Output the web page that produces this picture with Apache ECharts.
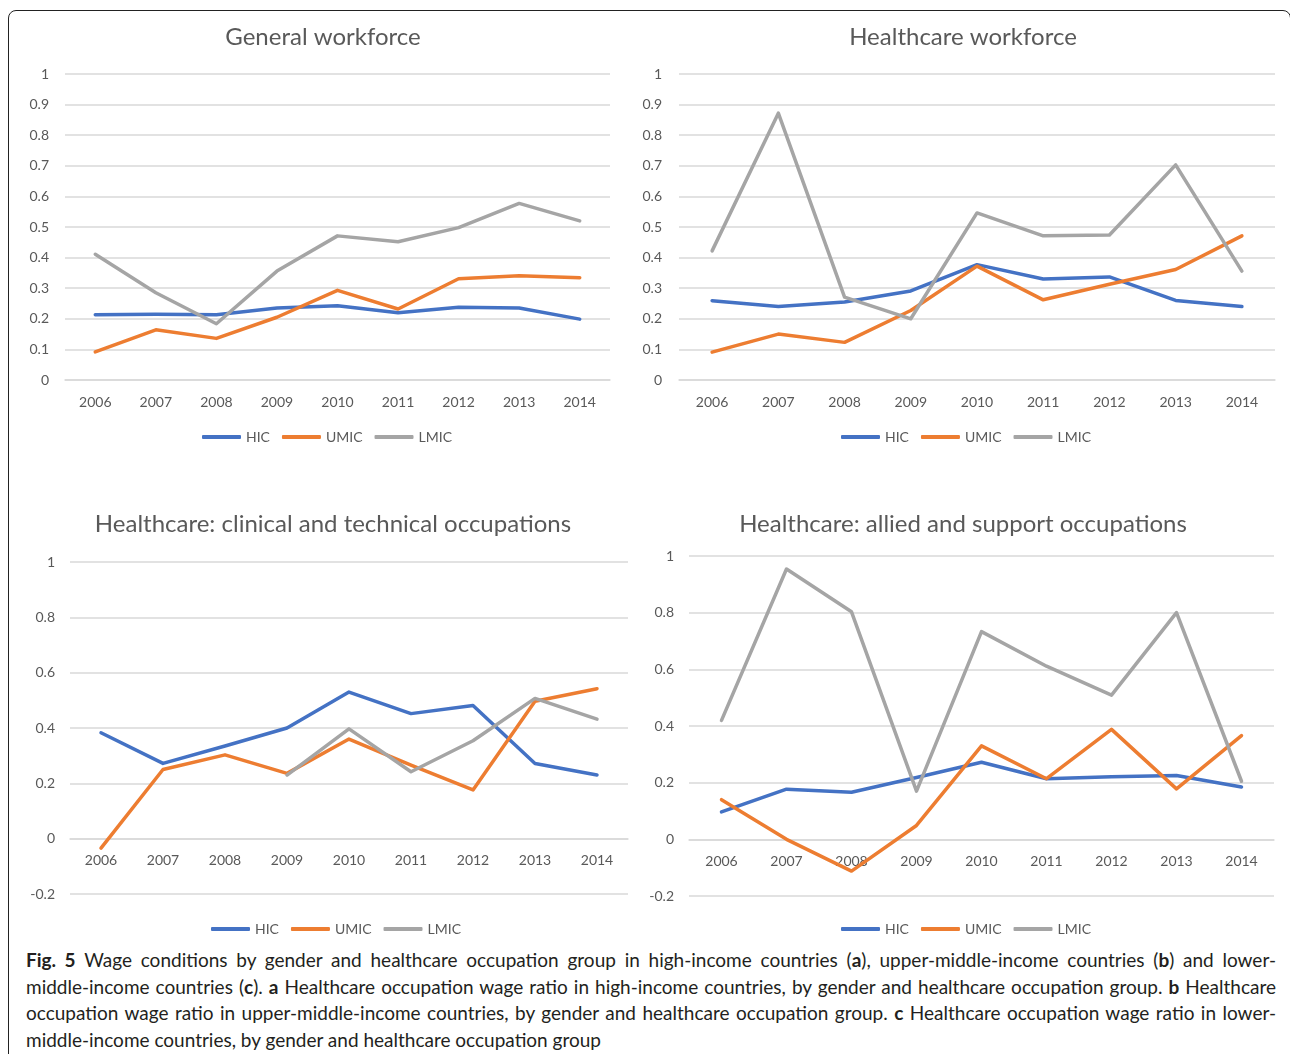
<!DOCTYPE html>
<html>
<head>
<meta charset="utf-8">
<script src="https://cdn.jsdelivr.net/npm/echarts@6/dist/echarts.min.js"></script>
<style>
html, body { margin: 0; padding: 0; background: #fff; width: 1290px; height: 1054px; overflow: hidden; }
.frame { position: absolute; left: 8px; top: 10px; width: 1283px; height: 1100px; border: 1.5px solid #222; border-radius: 8px; box-sizing: border-box; }
#chart { position: absolute; left: 0; top: 0; width: 1290px; height: 945px; }
.caption { position: absolute; left: 26px; top: 947px; width: 1250px; font-family: Lato, sans-serif; font-size: 19px; color: #231f20; line-height: 26.6px; }
.caption div { white-space: nowrap; text-align: justify; text-align-last: justify; }
.caption div.last { text-align-last: left; }
</style>
</head>
<body>
<div class="frame"></div>
<div id="chart"></div>
<div class="caption">
    <div><b>Fig. 5</b> Wage conditions by gender and healthcare occupation group in high-income countries (<b>a</b>), upper-middle-income countries (<b>b</b>) and lower-</div>
    <div>middle-income countries (<b>c</b>). <b>a</b> Healthcare occupation wage ratio in high-income countries, by gender and healthcare occupation group. <b>b</b> Healthcare</div>
    <div>occupation wage ratio in upper-middle-income countries, by gender and healthcare occupation group. <b>c</b> Healthcare occupation wage ratio in lower-</div>
    <div class="last">middle-income countries, by gender and healthcare occupation group</div>
</div>
<script>
const years = ['2006', '2007', '2008', '2009', '2010', '2011', '2012', '2013', '2014'];
const seriesNames = ['HIC', 'UMIC', 'LMIC'];
const colors = ['#4472C4', '#ED7D31', '#A5A5A5'];

// General workforce
const generalHIC = [0.213, 0.215, 0.213, 0.235, 0.243, 0.220, 0.238, 0.235, 0.199];
const generalUMIC = [0.092, 0.164, 0.136, 0.205, 0.293, 0.232, 0.331, 0.341, 0.334];
const generalLMIC = [0.411, 0.285, 0.184, 0.356, 0.471, 0.452, 0.498, 0.577, 0.520];

// Healthcare workforce
const healthHIC = [0.259, 0.240, 0.255, 0.291, 0.377, 0.330, 0.337, 0.260, 0.240];
const healthUMIC = [0.091, 0.150, 0.123, 0.227, 0.372, 0.262, 0.313, 0.361, 0.471];
const healthLMIC = [0.422, 0.872, 0.271, 0.200, 0.546, 0.471, 0.474, 0.703, 0.356];

// Healthcare: clinical and technical occupations
const clinicalHIC = [0.383, 0.272, 0.335, 0.400, 0.530, 0.452, 0.481, 0.272, 0.230];
const clinicalUMIC = [-0.034, 0.250, 0.303, 0.236, 0.360, 0.266, 0.176, 0.497, 0.542];
const clinicalLMIC = [null, null, null, 0.230, 0.397, 0.242, 0.354, 0.507, 0.432];

// Healthcare: allied and support occupations
const alliedHIC = [0.097, 0.177, 0.166, 0.218, 0.272, 0.214, 0.221, 0.225, 0.185];
const alliedUMIC = [0.140, 0.000, -0.112, 0.049, 0.330, 0.214, 0.388, 0.178, 0.366];
const alliedLMIC = [0.420, 0.954, 0.803, 0.170, 0.733, 0.611, 0.509, 0.800, 0.205];

// xOffset lifts the year labels up to the zero line on the panels that go below zero
const panels = [
    { title: 'General workforce', cx: 323, titleTop: 25, legendLeft: 202, legendTop: 430,
      grid: { left: 65, top: 74, width: 545, height: 306 }, min: 0, max: 1, interval: 0.1, labelMargin: 16, xOffset: 0,
      data: [generalHIC, generalUMIC, generalLMIC] },
    { title: 'Healthcare workforce', cx: 963, titleTop: 25, legendLeft: 841, legendTop: 430,
      grid: { left: 679, top: 74, width: 596, height: 306 }, min: 0, max: 1, interval: 0.1, labelMargin: 17, xOffset: 0,
      data: [healthHIC, healthUMIC, healthLMIC] },
    { title: 'Healthcare: clinical and technical occupations', cx: 333, titleTop: 512, legendLeft: 211, legendTop: 922,
      grid: { left: 70, top: 562, width: 558, height: 332 }, min: -0.2, max: 1, interval: 0.2, labelMargin: 15, xOffset: -55.3,
      data: [clinicalHIC, clinicalUMIC, clinicalLMIC] },
    { title: 'Healthcare: allied and support occupations', cx: 963, titleTop: 512, legendLeft: 841, legendTop: 922,
      grid: { left: 689, top: 556, width: 585, height: 340 }, min: -0.2, max: 1, interval: 0.2, labelMargin: 15, xOffset: -56.7,
      data: [alliedHIC, alliedUMIC, alliedLMIC] }
];

const font = 'Lato, sans-serif';
const textColor = '#595959';
const gridColor = '#D9D9D9';

const option = {
    animation: false,
    title: panels.map(p => ({
        text: p.title,
        left: p.cx,
        top: p.titleTop,
        textAlign: 'center',
        padding: 0,
        textStyle: { fontFamily: font, fontSize: 24, fontWeight: 'normal', color: textColor }
    })),
    legend: panels.map(p => ({
        data: seriesNames,
        left: p.legendLeft,
        top: p.legendTop,
        padding: 0,
        icon: 'roundRect',
        itemWidth: 39,
        itemHeight: 4,
        itemGap: 12,
        selectedMode: false,
        textStyle: { fontFamily: font, fontSize: 14, color: textColor }
    })),
    grid: panels.map(p => p.grid),
    xAxis: panels.map((p, i) => ({
        type: 'category',
        gridIndex: i,
        data: years,
        boundaryGap: true,
        offset: p.xOffset,
        axisTick: { show: false },
        axisLine: { onZero: false, lineStyle: { color: gridColor, width: 1.5 } },
        axisLabel: { fontFamily: font, fontSize: 14, color: textColor, margin: 15 }
    })),
    yAxis: panels.map((p, i) => ({
        type: 'value',
        gridIndex: i,
        min: p.min,
        max: p.max,
        interval: p.interval,
        axisLine: { show: false },
        axisTick: { show: false },
        splitLine: { lineStyle: { color: gridColor, width: 1.5 } },
        axisLabel: { fontFamily: font, fontSize: 14, color: textColor, margin: p.labelMargin }
    })),
    series: []
};

panels.forEach((p, i) => {
    p.data.forEach((values, k) => {
        option.series.push({
            name: seriesNames[k],
            type: 'line',
            xAxisIndex: i,
            yAxisIndex: i,
            data: values,
            symbol: 'none',
            connectNulls: false,
            itemStyle: { color: colors[k] },
            lineStyle: { color: colors[k], width: 3.5, cap: 'round', join: 'round' }
        });
    });
});

const chart = echarts.init(document.getElementById('chart'));
chart.setOption(option);
</script>
</body>
</html>
